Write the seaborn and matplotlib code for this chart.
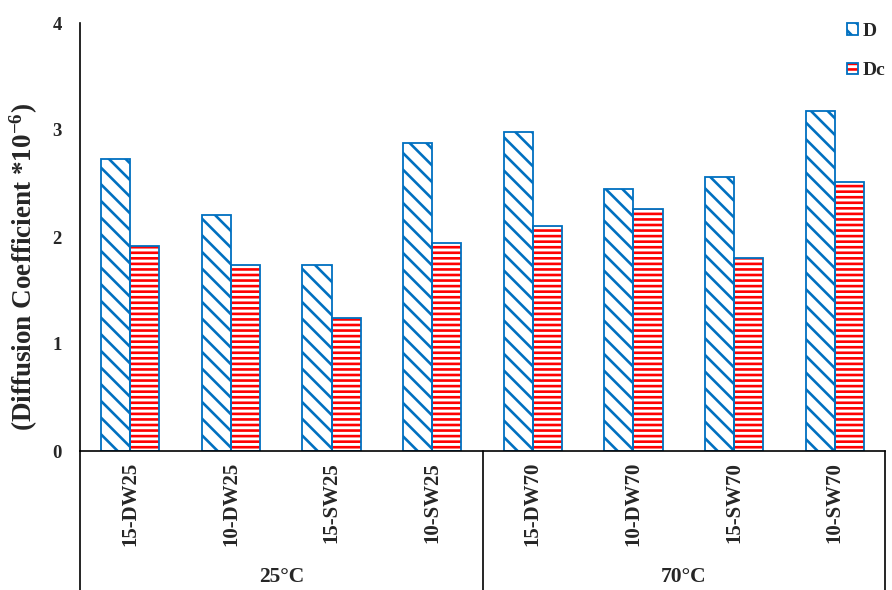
import matplotlib
matplotlib.use("Agg")
import matplotlib.pyplot as plt
import seaborn as sns
import pandas as pd
from matplotlib.patches import Patch
from matplotlib.legend_handler import HandlerTuple

# Diffusion coefficients (x 1e-6) for each sample, before (D) and after correction (Dc)
samples = ["15-DW25", "10-DW25", "15-SW25", "10-SW25",
           "15-DW70", "10-DW70", "15-SW70", "10-SW70"]
d_values = [2.73, 2.21, 1.74, 2.88, 2.98, 2.45, 2.56, 3.18]
dc_values = [1.92, 1.74, 1.24, 1.94, 2.10, 2.26, 1.80, 2.51]
series_names = ["D", "Dc"]
groups = ["25°C", "70°C"]
y_ticks = [0, 1, 2, 3, 4]

BLUE = "#0070C0"
RED = "#FF0000"
SERIF = "Liberation Serif"

sns.set_theme(style="white")
plt.rcParams["font.family"] = [SERIF, "DejaVu Serif"]
plt.rcParams["font.weight"] = "bold"
plt.rcParams["mathtext.fontset"] = "custom"
plt.rcParams["mathtext.rm"] = SERIF + ":bold"
plt.rcParams["mathtext.bf"] = SERIF + ":bold"
plt.rcParams["mathtext.default"] = "bf"
plt.rcParams["hatch.linewidth"] = 1.9

df = pd.DataFrame({
    "sample": samples * 2,
    "value": d_values + dc_values,
    "series": [series_names[0]] * len(samples) + [series_names[1]] * len(samples),
})

fig = plt.figure(figsize=(8.92, 5.90), dpi=100)
ax = fig.add_axes([80 / 892, 1 - 451 / 590, 805 / 892, 428 / 590])

# Hatched bars (no outline); hatch colour follows the edge colour
sns.barplot(data=df, x="sample", y="value", hue="series", order=samples,
            hue_order=series_names, width=0.58, palette={"D": "white", "Dc": "white"},
            ax=ax, legend=False, errorbar=None)
hatches = {"D": "\\\\", "Dc": "---"}
hatch_colors = {"D": BLUE, "Dc": RED}
for container, name in zip(ax.containers, series_names):
    for bar in container:
        bar.set_hatch(hatches[name])
        bar.set_edgecolor(hatch_colors[name])
        bar.set_linewidth(0)

# Blue outlines on all bars
sns.barplot(data=df, x="sample", y="value", hue="series", order=samples,
            hue_order=series_names, width=0.58, fill=False,
            palette={"D": BLUE, "Dc": BLUE}, linewidth=1.3,
            ax=ax, legend=False, errorbar=None)

ax.set_xlim(-0.5, len(samples) - 0.5)
ax.set_ylim(0, 4)
ax.set_yticks(y_ticks)
ax.set_yticklabels([str(t) for t in y_ticks], fontsize=13.5, fontweight="bold")
ax.tick_params(axis="y", length=0, pad=13)
ax.tick_params(axis="x", length=0, pad=8)
ax.set_xticks(range(len(samples)))
ax.set_xticklabels(samples, rotation=90, fontsize=15, fontweight="bold", va="top")
ax.set_xlabel("")
ax.set_ylabel("(Diffusion Coefficient *10$^{-6}$)", fontsize=19.5,
              fontweight="bold")
ax.yaxis.set_label_coords(-0.05, 0.43)

for side in ["top", "right"]:
    ax.spines[side].set_visible(False)
for side in ["left", "bottom"]:
    ax.spines[side].set_color("black")
    ax.spines[side].set_linewidth(1.2)

# Category-group frame below the axis
depth = -139 / 428
for xf in [0.0, 0.5, 1.0]:
    ax.plot([xf, xf], [0, depth], transform=ax.transAxes, color="black",
            lw=1.2, clip_on=False)
for i, g in enumerate(groups):
    ax.text(0.25 + 0.5 * i, -126 / 428, g, transform=ax.transAxes,
            ha="center", va="center", fontsize=15.5, fontweight="bold")

# Legend
handles = [
    (Patch(facecolor="white", edgecolor=BLUE, hatch="\\\\", linewidth=0),
     Patch(facecolor="none", edgecolor=BLUE, linewidth=1.3)),
    (Patch(facecolor="white", edgecolor=RED, hatch="---", linewidth=0),
     Patch(facecolor="none", edgecolor=BLUE, linewidth=1.3)),
]
fig.legend(handles, series_names, handler_map={tuple: HandlerTuple(ndivide=1, pad=0)},
           loc="upper left", bbox_to_anchor=(847 / 892, 1 - 23 / 590),
           frameon=False, handlelength=0.55, handleheight=0.55,
           handletextpad=0.25, labelspacing=1.15, borderpad=0, borderaxespad=0,
           prop={"weight": "bold", "size": 14})

fig.savefig("out.png", dpi=100)
